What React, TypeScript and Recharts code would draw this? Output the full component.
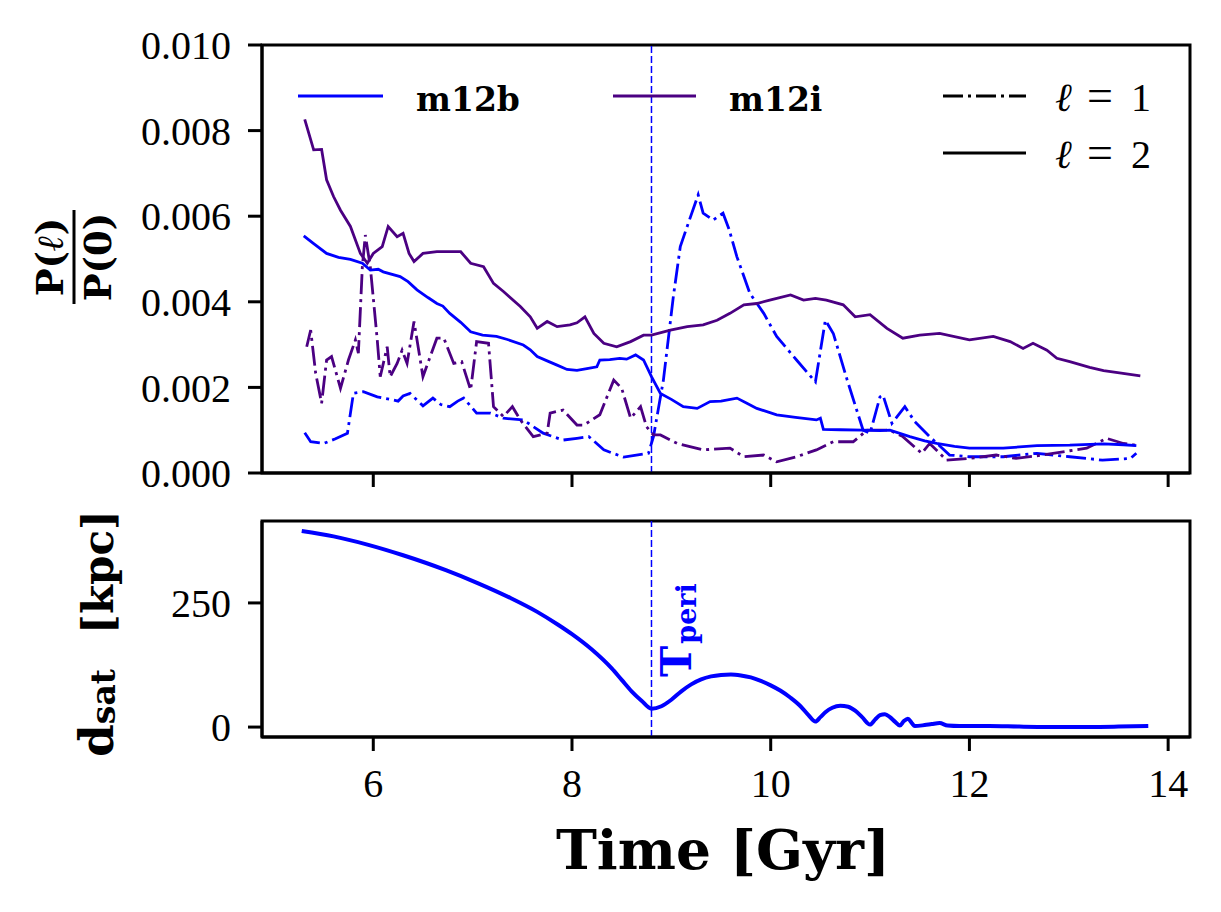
import React from 'react';
import { LineChart, Line, XAxis, YAxis, ReferenceLine, ReferenceArea } from 'recharts';

// ---------------- data ----------------
const X_DOMAIN: [number, number] = [4.88, 14.22];
const X_TICKS = [6, 8, 10, 12, 14];
const P_DOMAIN: [number, number] = [0, 0.01];
const P_TICKS = [0, 0.002, 0.004, 0.006, 0.008, 0.01];
const D_DOMAIN: [number, number] = [-20, 415];
const D_TICKS = [0, 250];
const T_PERI = 8.8;

// m12b, l = 2
const B2_T = [5.3, 5.4, 5.53, 5.65, 5.77, 5.89, 5.97, 6.05, 6.1, 6.27, 6.35, 6.44, 6.55, 6.64, 6.7, 6.77, 6.88, 6.98, 7.1, 7.24, 7.35, 7.51, 7.58, 7.65, 7.75, 7.85, 7.95, 8.05, 8.15, 8.25, 8.28, 8.38, 8.48, 8.55, 8.64, 8.72, 8.8, 8.89, 9.0, 9.12, 9.26, 9.39, 9.5, 9.66, 9.76, 9.86, 10.06, 10.25, 10.46, 10.5, 10.53, 10.7, 10.93, 11.1, 11.2, 11.4, 11.55, 11.67, 11.85, 12.0, 12.34, 12.68, 13.01, 13.35, 13.55, 13.68];
const B2_V = [0.00554, 0.00536, 0.00513, 0.00504, 0.00499, 0.0049, 0.00474, 0.00476, 0.0047, 0.00459, 0.00447, 0.00428, 0.0041, 0.00396, 0.0039, 0.00373, 0.00352, 0.0033, 0.00322, 0.00319, 0.00312, 0.00299, 0.00288, 0.00272, 0.00262, 0.00252, 0.00242, 0.0024, 0.00244, 0.00248, 0.00264, 0.00265, 0.00268, 0.00266, 0.00276, 0.00264, 0.00225, 0.00186, 0.00172, 0.00155, 0.00151, 0.00167, 0.00168, 0.00175, 0.00163, 0.00151, 0.00136, 0.0013, 0.00124, 0.00128, 0.00102, 0.00101, 0.001, 0.00099, 0.001, 0.00085, 0.00075, 0.00069, 0.00062, 0.00058, 0.00058, 0.00064, 0.00065, 0.00068, 0.00066, 0.00064];

// m12b, l = 1
const B1_T = [5.31, 5.37, 5.5, 5.62, 5.74, 5.8, 5.9, 6.04, 6.17, 6.25, 6.3, 6.37, 6.5, 6.6, 6.68, 6.77, 6.85, 6.91, 7.04, 7.18, 7.31, 7.51, 7.71, 7.91, 8.05, 8.17, 8.32, 8.52, 8.77, 8.82, 8.92, 9.02, 9.09, 9.18, 9.27, 9.32, 9.42, 9.52, 9.58, 9.66, 9.79, 9.93, 10.06, 10.26, 10.45, 10.55, 10.63, 10.77, 10.93, 11.0, 11.1, 11.13, 11.22, 11.35, 11.45, 11.6, 11.8, 12.0, 12.34, 12.68, 13.01, 13.34, 13.62, 13.68];
const B1_V = [0.00094, 0.00073, 0.00069, 0.0008, 0.00093, 0.00186, 0.0019, 0.00178, 0.00172, 0.00168, 0.0018, 0.00186, 0.00157, 0.00175, 0.0016, 0.00155, 0.00168, 0.00175, 0.0014, 0.0014, 0.00128, 0.00124, 0.00093, 0.00077, 0.00081, 0.00085, 0.00054, 0.00037, 0.00046, 0.00085, 0.00217, 0.00412, 0.00529, 0.0059, 0.0065, 0.00607, 0.00591, 0.00607, 0.0057, 0.00505, 0.0042, 0.00373, 0.00319, 0.00264, 0.00213, 0.00357, 0.00326, 0.00217, 0.001, 0.00093, 0.00178, 0.00182, 0.00116, 0.00155, 0.0012, 0.00085, 0.00042, 0.00038, 0.00038, 0.00046, 0.00038, 0.0003, 0.00034, 0.00046];

// m12i, l = 2
const I2_T = [5.31, 5.4, 5.48, 5.53, 5.6, 5.67, 5.77, 5.87, 5.94, 6.0, 6.09, 6.15, 6.24, 6.3, 6.36, 6.41, 6.5, 6.64, 6.77, 6.88, 6.98, 7.11, 7.21, 7.31, 7.48, 7.58, 7.65, 7.75, 7.85, 7.98, 8.05, 8.13, 8.22, 8.32, 8.45, 8.59, 8.72, 8.8, 8.99, 9.16, 9.32, 9.46, 9.59, 9.73, 9.86, 9.99, 10.2, 10.33, 10.45, 10.56, 10.73, 10.85, 11.0, 11.17, 11.33, 11.5, 11.7, 12.0, 12.24, 12.41, 12.54, 12.64, 12.78, 12.88, 13.01, 13.21, 13.35, 13.51, 13.72];
const I2_V = [0.00826, 0.00755, 0.00756, 0.00685, 0.00646, 0.00614, 0.00576, 0.00513, 0.0049, 0.00513, 0.00529, 0.00576, 0.00552, 0.0056, 0.00513, 0.00494, 0.00513, 0.00517, 0.00517, 0.00517, 0.0049, 0.00482, 0.00443, 0.00424, 0.00389, 0.00365, 0.00338, 0.00354, 0.00342, 0.00346, 0.00351, 0.00365, 0.00326, 0.00303, 0.00295, 0.00307, 0.00322, 0.00322, 0.00334, 0.00342, 0.00346, 0.00357, 0.00373, 0.00393, 0.00396, 0.00404, 0.00416, 0.00404, 0.00408, 0.00404, 0.00393, 0.00365, 0.0037, 0.00338, 0.00315, 0.00322, 0.00326, 0.00311, 0.00319, 0.00307, 0.00291, 0.00303, 0.00287, 0.00268, 0.0026, 0.00247, 0.00239, 0.00234, 0.00227];

// m12i, l = 1
const I1_T = [5.33, 5.37, 5.42, 5.48, 5.53, 5.58, 5.67, 5.75, 5.82, 5.85, 5.89, 5.92, 5.97, 6.04, 6.07, 6.14, 6.17, 6.24, 6.29, 6.34, 6.41, 6.5, 6.64, 6.71, 6.81, 6.89, 6.98, 7.04, 7.16, 7.21, 7.31, 7.4, 7.48, 7.61, 7.75, 7.78, 7.91, 8.05, 8.12, 8.28, 8.42, 8.5, 8.59, 8.69, 8.75, 8.82, 8.89, 9.06, 9.32, 9.59, 9.73, 9.93, 10.06, 10.26, 10.46, 10.63, 10.83, 10.97, 11.2, 11.33, 11.52, 11.6, 11.77, 12.0, 12.27, 12.47, 12.74, 13.01, 13.18, 13.38, 13.55, 13.68];
const I1_V = [0.00295, 0.00334, 0.00233, 0.00163, 0.00264, 0.00272, 0.00198, 0.00264, 0.00311, 0.0028, 0.00482, 0.00556, 0.00482, 0.00311, 0.00225, 0.00295, 0.00225, 0.00256, 0.00287, 0.00256, 0.00354, 0.00225, 0.00315, 0.00315, 0.00256, 0.0026, 0.00194, 0.00307, 0.00303, 0.00155, 0.00132, 0.00155, 0.00124, 0.00085, 0.00093, 0.0014, 0.00147, 0.00112, 0.00112, 0.00136, 0.00217, 0.00198, 0.00128, 0.00155, 0.00108, 0.00089, 0.00089, 0.00069, 0.00054, 0.00058, 0.00038, 0.00042, 0.00026, 0.00038, 0.00054, 0.00073, 0.00073, 0.001, 0.001, 0.00085, 0.00046, 0.00069, 0.0003, 0.00034, 0.00042, 0.00034, 0.00042, 0.00052, 0.00058, 0.00081, 0.00069, 0.00065];

// satellite distance [kpc]
const DS_T = [5.28, 5.6, 5.95, 6.3, 6.73, 7.05, 7.39, 7.65, 7.86, 8.0, 8.2, 8.4, 8.5, 8.6, 8.7, 8.8, 8.9, 9.0, 9.1, 9.2, 9.3, 9.4, 9.5, 9.6, 9.7, 9.8, 9.9, 10.0, 10.1, 10.2, 10.3, 10.38, 10.45, 10.5, 10.55, 10.62, 10.7, 10.78, 10.85, 10.92, 11.0, 11.05, 11.1, 11.15, 11.2, 11.25, 11.3, 11.34, 11.38, 11.42, 11.45, 11.55, 11.62, 11.7, 11.78, 11.9, 12.2, 12.5, 13.0, 13.5, 13.8];
const DS_V = [395, 384, 367, 346, 316, 290, 259, 232, 206, 187, 156, 118, 95, 72, 53, 37, 42, 55, 72, 86, 96, 102, 105, 106, 104, 100, 93, 84, 73, 59, 42, 24, 11, 20, 30, 39, 43, 41, 33, 20, 5, 15, 24, 26, 20, 11, 3, 12, 17, 8, 2, 4, 6, 8, 3, 2, 2, 1, 0, 1, 2];

const SERIES_NAMES = ['m12b', 'm12i'];
const ELL_NAMES = ['1', '2'];

// ---------------- styles ----------------
const BLUE = '#0000ff';
const INDIGO = '#4b0082';
const DASHDOT = '20 5 3 5';
const TICK_FONT = 'Liberation Serif, DejaVu Serif, serif';
const BOLD_FONT = 'DejaVu Serif, Liberation Serif, serif';

const W = 1221;
const TOP_H = 500;
const BOT_H = 412;
const Y_AXIS_W = 262;

const pairs = (ts: number[], vs: number[]) => ts.map((t, i) => ({ t, v: vs[i] }));
const B2 = pairs(B2_T, B2_V);
const B1 = pairs(B1_T, B1_V);
const I2 = pairs(I2_T, I2_V);
const I1 = pairs(I1_T, I1_V);
const DS = pairs(DS_T, DS_V);

const tickStyle = { fill: '#000', fontSize: 40, fontFamily: TICK_FONT };
const axisStroke = { stroke: '#000', strokeWidth: 3 };

const FracLabel = (props: any) => {
  const vb = props.viewBox || { x: 0, y: 45, width: 262, height: 428 };
  const cy = vb.y + vb.height / 2 - 2;
  const x0 = vb.x;
  return (
    <g>
      <text transform={`translate(${x0 + 63},${cy}) rotate(-90)`} textAnchor="middle"
        fontFamily={BOLD_FONT} fontWeight="bold" fontSize={37} fill="#000">
        P(<tspan fontStyle="italic">ℓ</tspan>)
      </text>
      <line x1={x0 + 74} x2={x0 + 74} y1={cy - 47} y2={cy + 47} stroke="#000" strokeWidth={3} />
      <text transform={`translate(${x0 + 111},${cy}) rotate(-90)`} textAnchor="middle"
        fontFamily={BOLD_FONT} fontWeight="bold" fontSize={37} fill="#000">
        P(0)
      </text>
    </g>
  );
};

const DsatLabel = (props: any) => {
  const vb = props.viewBox || { x: 0, y: 21, width: 262, height: 216 };
  const cy = vb.y + vb.height / 2;
  const bx = vb.x + 113;
  return (
    <g>
      <text transform={`translate(${bx},${cy + 128}) rotate(-90)`} textAnchor="start"
        fontFamily={BOLD_FONT} fontWeight="bold" fontSize={47} fill="#000">
        d<tspan fontSize={33} dy={2}>sat</tspan>
      </text>
      <text transform={`translate(${bx},${cy - 57}) rotate(-90)`} textAnchor="middle"
        fontFamily={BOLD_FONT} fontWeight="bold" fontSize={42} fill="#000">
        [kpc]
      </text>
    </g>
  );
};

const TimeLabel = (props: any) => {
  const vb = props.viewBox || { x: 262, y: 237, width: 928, height: 175 };
  return (
    <text x={vb.x + vb.width / 2 - 3} y={vb.y + 132} textAnchor="middle"
      fontFamily={BOLD_FONT} fontWeight="bold" fontSize={55} fill="#000">
      Time [Gyr]
    </text>
  );
};

const PeriLabel = (props: any) => {
  const vb = props.viewBox || { x: 652, y: 21, width: 0, height: 216 };
  const x = vb.x + 40;
  const y = vb.y + vb.height - 60;
  return (
    <text transform={`translate(${x},${y}) rotate(-90)`} textAnchor="start"
      fontFamily={BOLD_FONT} fontWeight="bold" fontSize={42} fill={BLUE}>
      T<tspan fontSize={27} dy={5} dx={2}>peri</tspan>
    </text>
  );
};

const Legend = () => (
  <svg width={W} height={220} style={{ position: 'absolute', left: 0, top: 0, pointerEvents: 'none' }}>
    <line x1={298} x2={383} y1={96} y2={96} stroke={BLUE} strokeWidth={3} />
    <text x={416} y={111} fontFamily={BOLD_FONT} fontWeight="bold" fontSize={33} fill="#000">{SERIES_NAMES[0]}</text>
    <line x1={613} x2={696} y1={96} y2={96} stroke={INDIGO} strokeWidth={3} />
    <text x={729} y={111} fontFamily={BOLD_FONT} fontWeight="bold" fontSize={33} fill="#000">{SERIES_NAMES[1]}</text>
    <line x1={943} x2={1026} y1={96} y2={96} stroke="#000" strokeWidth={3} strokeDasharray={DASHDOT} />
    <text y={111} fontFamily={TICK_FONT} fontSize={40} fill="#000">
      <tspan x={1055} fontStyle="italic">ℓ</tspan>
      <tspan x={1087} fontSize={46}>=</tspan>
      <tspan x={1131}>{ELL_NAMES[0]}</tspan>
    </text>
    <line x1={943} x2={1026} y1={153} y2={153} stroke="#000" strokeWidth={3} />
    <text y={168} fontFamily={TICK_FONT} fontSize={40} fill="#000">
      <tspan x={1055} fontStyle="italic">ℓ</tspan>
      <tspan x={1087} fontSize={46}>=</tspan>
      <tspan x={1131}>{ELL_NAMES[1]}</tspan>
    </text>
  </svg>
);

export default function App() {
  return (
    <div style={{ position: 'absolute', left: 0, top: 0, width: W, height: 912, background: '#fff', overflow: 'hidden' }}>
      <div style={{ position: 'absolute', left: 0, top: 0 }}>
        <LineChart width={W} height={TOP_H} margin={{ top: 45, right: 31, left: 0, bottom: 0 }}>
          <XAxis dataKey="t" type="number" domain={X_DOMAIN} ticks={X_TICKS} allowDataOverflow
            interval={0} height={27} tickSize={14} tickFormatter={() => ''}
            tick={tickStyle} tickLine={axisStroke} axisLine={axisStroke} />
          <YAxis type="number" domain={P_DOMAIN} ticks={P_TICKS} allowDataOverflow interval={0}
            width={Y_AXIS_W} tickSize={14} tickMargin={17} tick={tickStyle}
            tickLine={axisStroke} axisLine={axisStroke}
            tickFormatter={(v: number) => v.toFixed(3)} label={<FracLabel />} />
          <ReferenceArea x1={X_DOMAIN[0]} x2={X_DOMAIN[1]} y1={P_DOMAIN[0]} y2={P_DOMAIN[1]}
            fill="none" fillOpacity={0} stroke="#000" strokeWidth={3} />
          <ReferenceLine x={T_PERI} stroke={BLUE} strokeWidth={1.5} strokeDasharray="7 3" />
          <Line data={B1} dataKey="v" type="linear" dot={false} stroke={BLUE} strokeWidth={2.8}
            strokeDasharray={DASHDOT} isAnimationActive={false} />
          <Line data={I1} dataKey="v" type="linear" dot={false} stroke={INDIGO} strokeWidth={2.8}
            strokeDasharray={DASHDOT} isAnimationActive={false} />
          <Line data={B2} dataKey="v" type="linear" dot={false} stroke={BLUE} strokeWidth={2.8}
            isAnimationActive={false} />
          <Line data={I2} dataKey="v" type="linear" dot={false} stroke={INDIGO} strokeWidth={2.8}
            isAnimationActive={false} />
        </LineChart>
      </div>
      <div style={{ position: 'absolute', left: 0, top: TOP_H }}>
        <LineChart width={W} height={BOT_H} margin={{ top: 21, right: 31, left: 0, bottom: 0 }}>
          <XAxis dataKey="t" type="number" domain={X_DOMAIN} ticks={X_TICKS} allowDataOverflow
            interval={0} height={175} tickSize={14} tickMargin={18} tick={tickStyle}
            tickLine={axisStroke} axisLine={axisStroke} label={<TimeLabel />} />
          <YAxis type="number" domain={D_DOMAIN} ticks={D_TICKS} allowDataOverflow interval={0}
            width={Y_AXIS_W} tickSize={14} tickMargin={17} tick={tickStyle}
            tickLine={axisStroke} axisLine={axisStroke} label={<DsatLabel />} />
          <ReferenceArea x1={X_DOMAIN[0]} x2={X_DOMAIN[1]} y1={D_DOMAIN[0]} y2={D_DOMAIN[1]}
            fill="none" fillOpacity={0} stroke="#000" strokeWidth={3} />
          <ReferenceLine x={T_PERI} stroke={BLUE} strokeWidth={1.5} strokeDasharray="7 3"
            label={<PeriLabel />} />
          <Line data={DS} dataKey="v" type="monotone" dot={false} stroke={BLUE} strokeWidth={4}
            isAnimationActive={false} />
        </LineChart>
      </div>
      <Legend />
    </div>
  );
}
